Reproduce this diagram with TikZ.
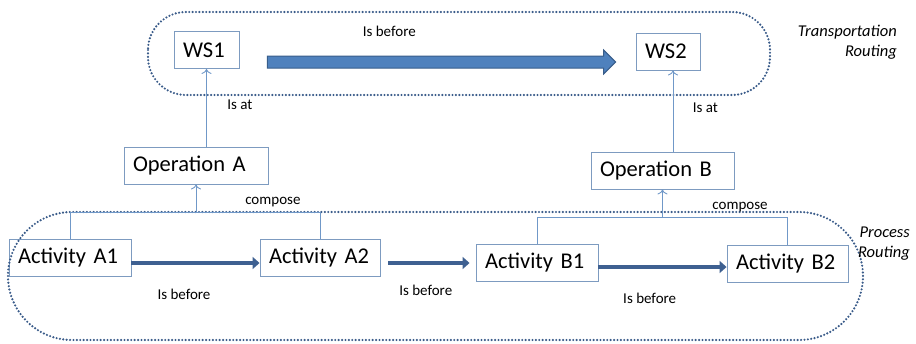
\documentclass[tikz,border=0pt]{standalone}
\usepackage{fontspec}
\setmainfont{Carlito}
\usetikzlibrary{arrows.meta,positioning,calc}

\definecolor{boxline}{RGB}{125,155,192}
\definecolor{linkblue}{RGB}{112,152,200}
\definecolor{groupline}{RGB}{58,92,138}
\definecolor{flowblue}{RGB}{62,96,145}
\definecolor{bigfill}{RGB}{79,129,189}
\definecolor{bigedge}{RGB}{56,93,138}

\begin{document}
\begin{tikzpicture}[
  x=1pt, y=-1pt,
  every node/.style={font=\fontsize{15}{18}\selectfont},
  box/.style={draw=boxline, line width=0.9pt, minimum height=37pt, text width=#1, inner xsep=9pt, align=left, font=\fontsize{22.5}{26}\selectfont},
  grp/.style={draw=groupline, line width=2.4pt, dash pattern=on 0pt off 3.4pt, line cap=round},
  grplabel/.style={font=\fontsize{16.5}{20}\selectfont\itshape, align=right, anchor=east, inner sep=0pt},
  link/.style={draw=linkblue, line width=0.9pt},
  linkarr/.style={link, -{To[length=5pt, width=10pt]}},
  flow/.style={draw=flowblue, line width=4.3pt, -{Triangle[length=7pt, width=12pt]}},
  bigarr/.style={fill=bigfill, draw=bigedge, line width=1pt}
]
\useasboundingbox (0,0) rectangle (916,343);

% stations
\node[box=47pt] (ws1) at (206.5,50) {WS1};
\node[box=46pt] (ws2) at (668,51.5) {WS2};

% operations
\node[box=126pt] (opA) at (196,165.5) {Operation A};
\node[box=125pt] (opB) at (662.5,170.5) {Operation B};

% activities
\node[box=104pt] (a1) at (70,257.5) {Activity A1};
\node[box=102pt] (a2) at (320,258) {Activity A2};
\node[box=104pt] (b1) at (537,262.5) {Activity B1};
\node[box=103pt] (b2) at (787.5,263.5) {Activity B2};

% routing groups
\draw[grp, rounded corners=38pt] (148,12) rectangle (770,95);
\draw[grp, rounded corners=64pt] (8,212) rectangle (863,340);
\node[grplabel] (trlabel) at (897,42) {Transportation\\Routing};
\node[grplabel] (prlabel) at (910,244) {Process\\Routing};

% station order
\coordinate (ta) at ([xshift=28pt,yshift=-12pt]ws1.east);
\coordinate (tb) at ([xshift=-20pt]ta -| ws2.west);
\filldraw[bigarr] ($(ta)+(0,-6)$) -- ($(tb)+(-12,-6)$) -- ($(tb)+(-12,-12)$) -- (tb)
  -- ($(tb)+(-12,12)$) -- ($(tb)+(-12,6)$) -- ($(ta)+(0,6)$) -- cycle;
\path (ta) -- (tb) node[pos=0.35, yshift=31pt] {Is before};

% operation -> station
\draw[linkarr] (ws1.south |- opA.north) -- node[pos=0.54, right=17pt] {Is at} (ws1.south);
\draw[linkarr] ([xshift=5pt]ws2.south |- opB.north) -- node[pos=0.54, right=16pt] {Is at} ([xshift=5pt]ws2.south);

% activities compose operations
\coordinate (jA) at ([yshift=-28pt]opA.south);
\coordinate (jB) at ([yshift=-28pt]opB.south);
\draw[link] (a1.north) |- (jA) -| node[pos=0.31, yshift=10pt] {compose} (a2.north);
\draw[link] (b1.north) |- (jB) -| node[pos=0.31, yshift=10pt] {compose} (b2.north);
\draw[linkarr] (jA) -- (opA.south);
\draw[linkarr] (jB) -- (opB.south);

% activity order
\draw[flow] ([yshift=-5.5pt]a1.east) -- node[pos=0.41, yshift=-31pt] {Is before} ([yshift=-5.5pt]a1.east -| a2.west);
\draw[flow] ([xshift=8pt,yshift=-5pt]a2.east) -- node[pos=0.46, yshift=-27pt] {Is before} ([xshift=-6pt,yshift=-0.5pt]b1.west);
\draw[flow] ([yshift=-4.5pt]b1.east) -- node[pos=0.40, yshift=-31pt] {Is before} ([yshift=-4.5pt]b1.east -| b2.west);
\end{tikzpicture}
\end{document}
